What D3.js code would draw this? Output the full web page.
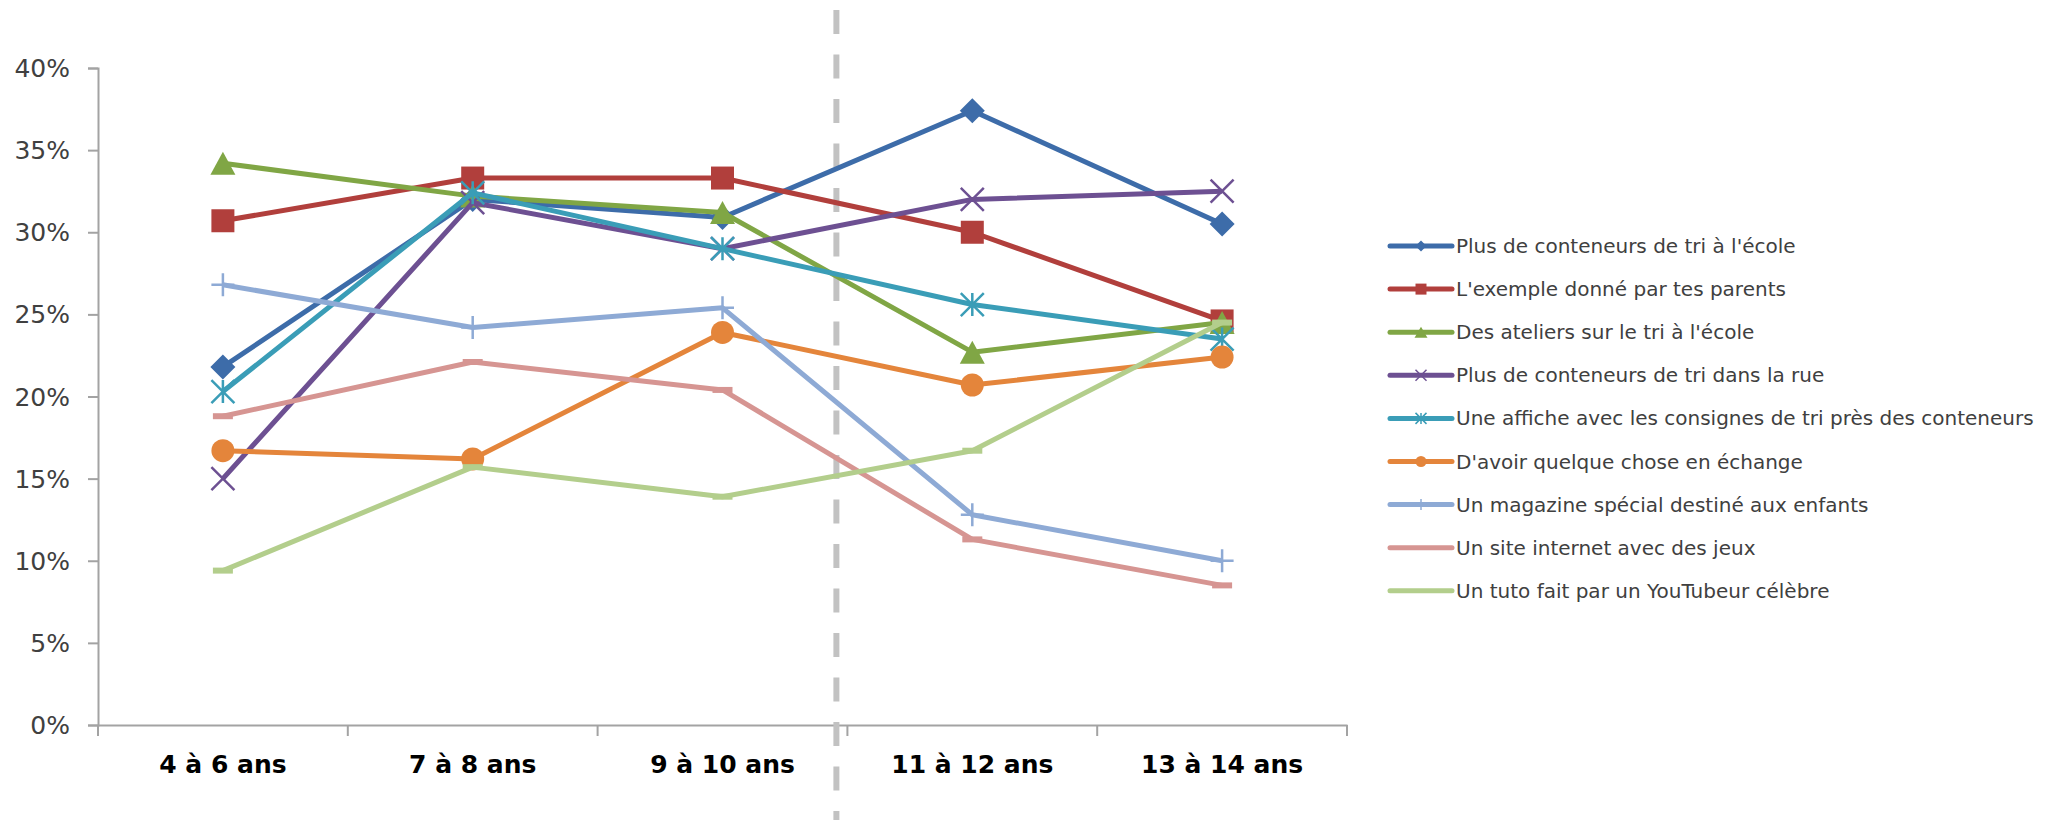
<!DOCTYPE html>
<html lang="fr">
<head>
  <meta charset="UTF-8">
  <title>Tri - par tranche d'âge</title>
  <script src="https://d3js.org/d3.v7.min.js"></script>
  <style>
    body { margin: 0; background: #fff; }
    svg text { font-family: "Century Gothic", "DejaVu Sans", sans-serif; }
  </style>
</head>
<body>
<svg id="chart" width="2054" height="820"></svg>
<script>
  // categories (x axis)
  var ages = ["4 à 6 ans", "7 à 8 ans", "9 à 10 ans", "11 à 12 ans", "13 à 14 ans"];
  var yTicks = [0, 5, 10, 15, 20, 25, 30, 35, 40];

  // series names, values in %
  var names = [
    "Plus de conteneurs de tri à l'école",
    "L'exemple donné par tes parents",
    "Des ateliers sur le tri à l'école",
    "Plus de conteneurs de tri dans la rue",
    "Une affiche avec les consignes de tri près des conteneurs",
    "D'avoir quelque chose en échange",
    "Un magazine spécial destiné aux enfants",
    "Un site internet avec des jeux",
    "Un tuto fait par un YouTubeur célèbre"
  ];
  var conteneursEcole = [21.8, 32.0, 30.9, 37.4, 30.5];
  var exempleParents  = [30.7, 33.3, 33.3, 30.0, 24.6];
  var ateliersEcole   = [34.2, 32.2, 31.2, 22.7, 24.5];
  var conteneursRue   = [15.0, 31.8, 29.0, 32.0, 32.5];
  var afficheConsignes = [20.3, 32.4, 29.0, 25.6, 23.5];
  var echange         = [16.7, 16.2, 23.9, 20.7, 22.4];
  var magazine        = [26.8, 24.2, 25.4, 12.8, 10.0];
  var siteJeux        = [18.8, 22.1, 20.4, 11.3, 8.5];
  var tutoYoutube     = [9.4, 15.7, 13.9, 16.7, 24.5];

  var colors = ["#3d6ca9", "#b13f3c", "#80a645", "#6d5092", "#3a9db7",
                "#e4853b", "#8eaad5", "#d69592", "#b3ce8c"];
  var markers = ["diamond", "square", "triangle", "x", "asterisk", "circle", "plus", "dash", "dash"];

  var allSeries = [conteneursEcole, exempleParents, ateliersEcole, conteneursRue,
                   afficheConsignes, echange, magazine, siteJeux, tutoYoutube];

  var svg = d3.select("#chart");

  var x = d3.scaleBand().domain(ages).range([98, 1347]);
  var y = d3.scaleLinear().domain([0, 40]).range([725, 68]);

  // y axis
  var yAxis = d3.axisLeft(y)
    .tickValues(yTicks)
    .tickSize(10)
    .tickPadding(18)
    .tickFormat(function (d) { return d + "%"; });
  var gy = svg.append("g").attr("transform", "translate(98,0)").call(yAxis);
  gy.select(".domain").attr("stroke", "#a3a3a3").attr("stroke-width", 2);
  gy.selectAll(".tick line").attr("stroke", "#a3a3a3").attr("stroke-width", 2);
  gy.selectAll(".tick text")
    .style("font-size", "25px")
    .style("fill", "#404040")
    .attr("dy", "0.34em");

  // x axis: labels only, then boundary ticks
  var xAxis = d3.axisBottom(x).tickSize(0).tickPadding(30);
  var gx = svg.append("g").attr("transform", "translate(0,725)").call(xAxis);
  gx.select(".domain").attr("stroke", "#a3a3a3").attr("stroke-width", 2);
  gx.selectAll(".tick text")
    .style("font-size", "25px")
    .style("font-weight", "bold")
    .style("fill", "#000");

  var bounds = ages.map(function (a) { return x(a); }).concat([x.range()[1]]);
  svg.append("g").selectAll("line").data(bounds).join("line")
    .attr("x1", function (d) { return d; })
    .attr("x2", function (d) { return d; })
    .attr("y1", y(0))
    .attr("y2", y(0) + 11)
    .attr("stroke", "#a3a3a3")
    .attr("stroke-width", 2);

  // separation line between 9-10 and 11-12
  var sepX = x(ages[3]) - 11;
  svg.append("line")
    .attr("x1", sepX).attr("x2", sepX)
    .attr("y1", 10).attr("y2", 820)
    .attr("stroke", "#c2c2c2")
    .attr("stroke-width", 6)
    .attr("stroke-dasharray", "24,20.5");

  function markerPath(type, s) {
    var h = s / 2;
    if (type == "diamond") return "M0," + (-h) + "L" + h + ",0L0," + h + "L" + (-h) + ",0Z";
    if (type == "square") return "M" + (-h) + "," + (-h) + "h" + s + "v" + s + "h" + (-s) + "Z";
    if (type == "triangle") return "M0," + (-h) + "L" + (h + 1) + "," + h + "L" + (-h - 1) + "," + h + "Z";
    if (type == "circle") return d3.symbol().type(d3.symbolCircle).size(Math.PI * h * h)();
    if (type == "x") return "M" + (-h) + "," + (-h) + "L" + h + "," + h + "M" + h + "," + (-h) + "L" + (-h) + "," + h;
    if (type == "asterisk") return "M" + (-h) + "," + (-h) + "L" + h + "," + h + "M" + h + "," + (-h) + "L" + (-h) + "," + h + "M0," + (-h) + "L0," + h;
    if (type == "plus") return "M" + (-h) + ",0L" + h + ",0M0," + (-h) + "L0," + h;
    if (type == "dash") return "M" + (-h) + ",-3h" + s + "v6h" + (-s) + "Z";
    return "";
  }
  var filled = { diamond: true, square: true, triangle: true, circle: true, dash: true };

  var line = d3.line()
    .x(function (d, i) { return x(ages[i]) + x.bandwidth() / 2; })
    .y(function (d) { return y(d); });

  allSeries.forEach(function (vals, k) {
    var g = svg.append("g");
    g.append("path")
      .attr("d", line(vals))
      .attr("fill", "none")
      .attr("stroke", colors[k])
      .attr("stroke-width", 5)
      .attr("stroke-linejoin", "round");
    var size = markers[k] == "dash" ? 20 : (markers[k] == "diamond" ? 25 : 23);
    g.selectAll("path.m").data(vals).join("path")
      .attr("class", "m")
      .attr("transform", function (d, i) {
        return "translate(" + (x(ages[i]) + x.bandwidth() / 2) + "," + y(d) + ")";
      })
      .attr("d", markerPath(markers[k], size))
      .attr("fill", filled[markers[k]] ? colors[k] : "none")
      .attr("stroke", colors[k])
      .attr("stroke-width", filled[markers[k]] ? 0 : 2.5);
  });

  // legend
  var legend = svg.append("g");
  names.forEach(function (n, k) {
    var ly = 246 + k * 43.1;
    var item = legend.append("g").attr("transform", "translate(0," + ly + ")");
    item.append("line")
      .attr("x1", 1390).attr("x2", 1452)
      .attr("y1", 0).attr("y2", 0)
      .attr("stroke", colors[k])
      .attr("stroke-width", 5)
      .attr("stroke-linecap", "round");
    if (markers[k] != "dash") {
      item.append("path")
        .attr("transform", "translate(1421,0)")
        .attr("d", markerPath(markers[k], 11))
        .attr("fill", filled[markers[k]] ? colors[k] : "none")
        .attr("stroke", colors[k])
        .attr("stroke-width", filled[markers[k]] ? 0 : 1.5);
    }
    item.append("text")
      .attr("x", 1456)
      .attr("y", 0)
      .attr("dy", "0.35em")
      .style("font-size", "20px")
      .style("fill", "#404040")
      .text(n);
  });
</script>
</body>
</html>
